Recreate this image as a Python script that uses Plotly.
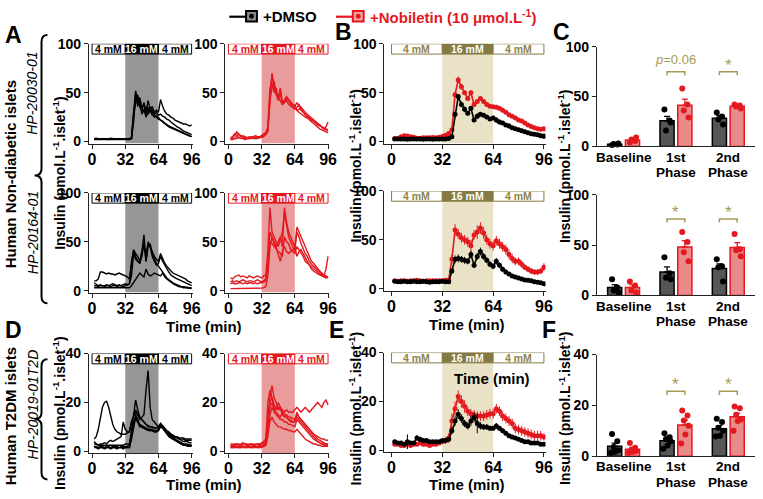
import numpy as np
import plotly.graph_objects as go

W, H = 763, 499
FONT = "Liberation Sans, Arial, Helvetica, sans-serif"
NARROW = "Liberation Sans Narrow, Arial Narrow, Liberation Sans, Arial, sans-serif"

# ---------------- data ----------------
TIME = list(range(2, 97, 2))          # sampling times (min)
TIME_TICKS = [0, 32, 64, 96]
GLUCOSE_EDGES = [0, 32, 64, 96]
GLUCOSE_LABELS = ["4 mM", "16 mM", "4 mM"]
PHASE_LABELS = ["Baseline", "1st", "2nd"]
PHASE_SUBLABELS = ["", "Phase", "Phase"]

# --- Non-diabetic donor HP-20030-01 : individual traces
ND1_DMSO_TRACES = [
    [3,3.5,3,2.5,3,3,2.5,3,3.5,3,2.5,2.5,3,2.5,2.5,3,2.5,3, 4,30,52,40,45,35,38,30,42,33,36,30,32,30,43,36,31,28,27,25,24,22,21,20,19,18,18,17,16,17],
    [2.5,3,3,3,2.5,3,3,2.5,3,3,3,3,2.5,3,3,2.5,3,3, 3,25,50,36,42,31,40,28,35,30,33,28,30,27,28,26,25,23,22,20,18,17,15,14,12,11,10,9,8,7],
    [2,2,2.5,2,2,2.5,2,2,2,2.5,2,2,2,2,2.5,2,2,2, 3,20,45,38,40,28,33,25,30,35,30,25,27,24,22,20,18,16,15,14,13,12,11,10,9,8,7,6,5.5,5],
    [2.5,2.5,2,2.5,3,2.5,2.5,2,2.5,2.5,2.5,2,2.5,2.5,2,2.5,2.5,2.5, 3,28,40,48,35,33,30,36,28,32,27,26,25,23,22,21,19,17,16,15,14,13,12,11,10,9,8,7,6,5],
]
ND1_NOB_TRACES = [
    [3,4,6,10,7,5,4,3,4,3,4,3,5,4,5,6,8,9, 12,45,70,55,50,45,52,40,42,45,42,38,35,36,40,36,32,30,28,27,25,22,20,18,17,16,15,13,12,11],
    [2,3,3,5,8,6,5,4,3,4,5,4,3,4,5,5,6,7, 10,50,68,58,48,42,50,38,40,42,38,36,34,33,35,38,34,30,27,25,24,22,21,20,18,17,15,14,13,12],
    [4,5,8,6,4,5,6,5,4,5,4,5,6,5,4,6,7,9, 15,55,60,50,55,45,42,38,40,45,42,40,38,36,32,33,35,32,30,28,26,25,23,21,18,16,14,13,15,20],
    [2,2,3,3,4,3,3,2,3,3,3,4,3,3,4,4,5,8, 11,42,55,62,48,44,55,38,42,46,43,40,38,37,32,30,28,27,25,24,22,20,19,17,15,13,12,11,10,9],
]
# --- Non-diabetic donor HP-20164-01 : individual traces
ND2_DMSO_TRACES = [
    [10,10,12,19,19,18,17,18,17,17,16,17,18,17,16,15,14,12, 25,42,38,35,30,40,45,38,48,45,40,35,32,30,38,33,28,25,22,20,18,17,16,15,14,13,12,10,9,8],
    [8,6,5,6,5,5,6,5,6,7,6,5,6,5,6,7,6,7, 30,40,35,30,28,40,57,30,45,48,38,32,28,25,22,18,15,13,11,9,8,7,6,5,4,4,3.5,3,3,3],
    [3,3,2.5,3,3,2.5,3,3,3,2.5,3,3,3,3,2.5,3,3,3, 5,8,12,15,18,16,14,22,17,15,16,18,17,16,15,18,14,12,10,8,7,6,5,4,4,3,3,2.5,2.5,2],
    [5,5,4,5,5,4,5,5,4,5,5,4,5,5,4,5,6,7, 15,38,32,30,28,35,48,30,50,45,35,30,26,28,35,30,26,22,19,16,14,13,12,11,10,9,8,7,6,5],
]
ND2_NOB_TRACES = [
    [13,12,14,15,16,14,15,14,13,15,14,13,14,15,14,13,15,16, 40,85,60,55,50,45,52,60,80,65,55,50,45,40,60,55,48,42,38,35,30,27,25,22,20,18,17,16,15,14],
    [9,10,9,10,9,10,11,10,9,10,10,9,10,11,10,9,10,12, 30,60,55,50,45,50,55,45,85,70,60,55,50,45,65,60,55,50,45,40,35,30,28,25,22,20,18,15,22,35],
    [7,8,7,7,8,8,7,8,7,8,8,7,8,7,8,8,9,10, 25,50,48,45,42,40,38,35,55,50,48,42,40,38,45,42,38,35,30,28,26,24,22,20,18,17,16,15,14,13],
    [2,2,2,2.5,2,2,2,2.5,2,2,2,2,2.5,2,2,2.5,3,4, 15,45,55,48,44,38,30,40,45,40,38,40,42,44,35,40,42,38,34,30,25,22,20,18,17,16,15,14,13,14],
]
# --- T2D donor HP-20019-01T2D : individual traces
T2D_DMSO_TRACES = [
    [5,6,9,14,18,20,20.5,18,14,11,9,8,7.5,7,7,7,7.5,8, 12,15,17,15,14,13,12,11,10.5,10,10,9.5,9.5,10,11,10,9,8,7,6.5,6,5.5,5.5,5,5,5,4.5,4.5,4.5,4.5],
    [3,3,2.5,3,3,3.5,3,4,4.5,4,4.5,5,5.5,6,12,9,8,8, 12,14,16,15,13,14,15,25,33,18,13,12,11,10,11,10,9,8,7.5,7,6.5,6,6,5.5,5.5,5.5,5,5,5,5],
    [2,2,1.5,2,2,1.5,2,2,1.5,2,2,2,1.5,2,2,2,2,2.5, 8,15,21,17,14,13,12,11,10,10,10,9.5,9.5,10,11.5,10.5,9.5,8.5,8,7,6.5,6,5.5,5,4.5,4,4,4,3.5,3.5],
    [2,1.5,1.5,1.5,1.5,1.5,1.5,1.5,1.5,1.5,1.5,1.5,1.5,1.5,1.5,1.5,1.5,1.5, 6,11,15,13,11,10.5,10,9.5,9,9,9,8.5,8.5,9,11,10,8.5,7.5,6.5,5.5,5,4.5,4,3.5,3,3,2.5,2.5,2.5,2.5],
    [1.5,1.5,1,1.5,1.5,1,1.5,1.5,1,1.5,1.5,1,1.5,1.5,1,1.5,1.5,1.5, 5,10,14,12,11,10,9.5,9,8.5,8.5,8.5,8,8,8.5,10.5,9.5,8,7,6,5.5,5,4.5,4,3.5,3,2.5,2.5,2,2,2],
    [4,3,2.5,2.5,2.5,2.5,2.5,2.5,2.5,2.5,2.5,2.5,2.5,2.5,2.5,3,3,3, 7,12,13,12,10,10,9.5,9,9,8.5,8.5,8,8,8.5,10,9.5,8.5,7.5,7,6,5.5,5,4.5,4,3.5,3,3,3,2.5,2.5],
]
T2D_NOB_TRACES = [
    [2.5,2.5,3,3,2.5,3,3.5,3,3,2.5,3,3,2.5,3,3,3.5,4,5, 15,22,27,22,20,18,17,16,15,15,14,14,13.5,13,15,14,13,12,11,10,9,8,7,6,5,4.5,4,3.5,3,3],
    [2,2,2.5,2,2,2.5,2,2,2.5,2,2,2.5,2,2,2.5,2,3,4, 12,20,22,19,18,17,18,17,16,17,16,16,16,17,18,17,16,17,18,17,16,17,18,19,20,19,18,20,21,19],
    [1.5,1.5,1.5,2,1.5,1.5,2,1.5,1.5,2,1.5,1.5,2,1.5,1.5,2,2,2.5, 8,12,14,12,11,10,10,9.5,9,9,8.5,8.5,8,8,9,8,7,6,5,4.5,4,3.5,3,3,2.5,2.5,2,2,2,2],
    [3,3,2.5,3,3,2.5,3,3,2.5,3,3,2.5,3,3,2.5,3,3.5,4, 20,25,22,18,17,20,18,15,14,14,13,13,12,12.5,16,14,13,12,11,10,9,8,7,6.5,6,5.5,5,5,4.5,4.5],
    [2,2,2,2,2,2,2,2,2,2,2,2,2,2,2,2,2.5,3, 10,18,20,17,16,15,14,16,15,14,13,12,12,12,14,13,12,11,10,9,8,7,6,5,4,3.5,3,2.5,2.5,2],
    [1.5,1.5,1.5,1.5,1.5,1.5,1.5,1.5,1.5,1.5,1.5,1.5,1.5,1.5,1.5,1.5,2,2.5, 6,15,18,16,15,14,13,13,12,12,11,11,10.5,10,13,12,11,10,9,8,7,6,5,4.5,4,3.5,3,3,3,2.5],
]

# --- Mean +/- SEM time courses (panels B, E)
ND1_DMSO_MEAN = [2.5,2.5,2.6,2.5,2.4,2.5,2.5,2.6,2.5,2.4,2.5,2.5,2.4,2.5,2.5,2.6,2.5,3.0, 5,28,46,38,33,29,34,22,26,28,27,25,23,24,22,20,19,17,16,14,13,12,11,10,9,8,7.5,7,6,5.5]
ND1_DMSO_SEM = [0.2,0.3,0.3,0.2,0.3,0.2,0.2,0.3,0.3,0.2,0.2,0.2,0.3,0.2,0.2,0.3,0.2,0.2, 0.5,2.5,2.5,3,3,2,2,1.5,3,1.5,2,1.2,1.5,1.5,3,2.5,1.8,1.5,2.5,2,2,2,2,2,2,2,2,2.5,2.5,2.8]
ND1_NOB_MEAN = [3,3.5,5,6,5.8,4.8,4.5,3.5,3.5,3.8,4,4,4.2,4,4.5,5.2,6.5,8.2, 12,48,63,56,50,44,50,38,41,44,41,38,36,35.5,35,34,32,30,27.5,26,24,22,21,19,17,15.5,14,13,12.5,13]
ND1_NOB_SEM = [0.5,0.6,1,1.5,0.9,0.6,0.6,0.5,0.4,0.5,0.5,0.4,0.6,0.4,0.5,0.5,0.7,0.5, 1.2,3,3.5,3,2,1.5,2.5,1.5,1.5,1.5,1.2,1,1,1,2,1.8,1.5,1.2,1.2,1,1,0.8,0.8,0.8,0.8,0.9,0.8,0.7,1,2.5]

ND2_DMSO_MEAN = [7.5,7,7,7.5,7,7,7.5,7,7,7.5,7,6.5,7,7,7,7.5,7,7, 18,30,31,30,29,28,35,24,33,38,33,29,25,23,28,24,20,17,15,13,12,11,10,9,8.5,8,7,6.5,6,5]
ND2_DMSO_SEM = [1,0.8,0.8,1,0.8,0.8,1,0.8,0.8,1,0.8,0.8,0.8,0.8,0.8,1,0.8,0.8, 3,4,4,3.5,3.5,3,4,3,3.5,4,3.5,3,3,3,3.5,3,2.5,2.5,2,2,2,1.8,1.5,1.5,1.5,1.2,1.2,1,1,1]
ND2_NOB_MEAN = [8,7.5,8,8,7.5,8,8,8.5,8,7.5,8,8,8,8,8,8,8.5,9, 30,60,56,52,50,48,44,55,58,62,57,50,46,44,49,46,43,40,35,31,28,28,25,22,20,18,17,17,18,22]
ND2_NOB_SEM = [1,1,1,1,1,1,1,1,1,1,1,1,1,1,1,1,1,1, 5,6,5,5,5,5,6,5,7,6,6,5,5,5,5,5,5,5,5,5,4,4,4,3,3,3,3,3,3,4]

T2D_DMSO_MEAN = [3.5,3,3,2.5,3.5,3,3,5,4.5,4,4,3.5,3.5,3.5,3.5,4,4,4.5, 8,12,14.8,13,11,10,12,13.5,11,10,9.5,9.5,9,9,10,9,8,7,6,5.5,5,4.5,4,3.5,3.5,3,3,3,2.5,2.5]
T2D_DMSO_SEM = [0.6,0.5,0.5,0.5,3,0.6,0.5,1.2,1,0.8,0.7,0.6,0.6,0.6,0.6,0.7,0.7,0.8, 1.5,2,2,1.8,1.5,1.5,2,2,4,1.5,1.2,1.2,1,1,1.2,1,1,0.8,0.8,0.7,0.7,0.6,0.6,0.6,0.5,0.5,0.5,0.5,0.5,0.5]
T2D_NOB_MEAN = [2.5,2.5,2,2,2.5,2,2.5,2.5,3,2.5,2.5,2,2.5,2.5,3,3.5,4,5, 12,17,22,20,18,16,15,14.5,14,14,14,14.5,15,15,17,16,14,13,12,11,9,8.5,8,7.5,7,6.5,6,6,6,5.5]
T2D_NOB_SEM = [0.5,0.5,0.4,0.4,0.5,0.4,0.5,0.5,0.6,0.5,0.5,0.4,0.5,0.5,0.6,0.8,1.5,2, 3,3,2.5,2.5,2.5,2,2,2,2,2,2,2,2,2,2,2,2,2,2,2,2,2,2,2,2,2,2,2,2,1.5]

# --- Phase quantification (panels C, F): one value per islet preparation
ND1_BAR_DMSO = [[1.5, 2, 2.5, 3], [37, 26, 16, 24], [34, 30, 27, 22]]
ND1_BAR_NOB = [[4, 5.5, 7, 9], [58, 42, 36, 29], [42, 41, 40, 38]]
ND2_BAR_DMSO = [[16, 8, 5, 3], [38, 22, 17.5, 16], [36, 29, 28, 14]]
ND2_BAR_NOB = [[14, 10, 5, 3], [63, 53, 43, 34], [61, 46, 45, 39]]
T2D_BAR_DMSO = [[8.7, 5.9, 3.6, 2.3, 1.7, 1.3], [9, 7.4, 6.8, 5.9, 4.2, 2.9], [14.7, 13.4, 11.2, 10, 8, 7.7]]
T2D_BAR_NOB = [[5.2, 3.3, 2.6, 2, 1.7, 1.3], [18, 16, 14, 12, 8.5, 5], [19.5, 18.9, 16.3, 14.4, 13.8, 10]]

ND1_SIG = ["<i>p</i>=0.06", "*"]   # 1st phase, 2nd phase
ND2_SIG = ["*", "*"]
T2D_SIG = ["*", "*"]

# ---------------- styles ----------------
BLACK = "#000000"
RED = "#e3191f"
GRAY_SHADE = "#969696"
RED_SHADE = "#e89c9c"
OLIVE = "#857a44"
OLIVE_TEXT = "#8e844a"
BEIGE = "#e9e2c6"
SIG_COLOR = "#a69b55"
BAR_DARK = "#565656"
BAR_RED = "#ea8a8a"
JITTER = [-0.05, 0.05, -0.02, 0.07, 0.01, -0.07]

fig = go.Figure()


def X(px):
    return px / W


def Y(py):
    return 1 - py / H


def bold(size, color=BLACK, family=FONT):
    return dict(family=family, size=size, color=color, weight="bold")


def set_axes(idx, xpx, ypx, xrange, yrange, yticks, xticks=True):
    s = "" if idx == 1 else str(idx)
    xa = dict(domain=[X(xpx[0]), X(xpx[1])], range=xrange, anchor="y" + s,
              showline=True, linecolor="#222", linewidth=1, showgrid=False,
              zeroline=False, fixedrange=True)
    if xticks:
        xa.update(tickvals=TIME_TICKS, ticks="outside", ticklen=4, tickwidth=1,
                  tickcolor="#222", tickfont=bold(16), ticklabelstandoff=-3)
    else:
        xa.update(showticklabels=False, ticks="")
    ya = dict(domain=[Y(ypx[1]), Y(ypx[0])], range=yrange, anchor="x" + s,
              showline=True, linecolor="#222", linewidth=1, showgrid=False,
              zeroline=False, tickvals=yticks, ticks="outside", ticklen=4,
              tickwidth=1, tickcolor="#222", tickfont=bold(14), fixedrange=True)
    fig.update_layout({"xaxis" + s: xa, "yaxis" + s: ya})
    return "x" + s, "y" + s


def glucose_box(xr, yr, ymin, ymax, edge, mid_fill, side_text, shade):
    bottom = ymax * 0.895
    fig.add_shape(type="rect", xref=xr, yref=yr, x0=GLUCOSE_EDGES[1], x1=GLUCOSE_EDGES[2],
                  y0=ymin, y1=bottom, fillcolor=shade, line_width=0, layer="below")
    for k in range(3):
        x0, x1 = GLUCOSE_EDGES[k], GLUCOSE_EDGES[k + 1]
        fig.add_shape(type="rect", xref=xr, yref=yr, x0=x0, x1=x1, y0=bottom, y1=ymax,
                      fillcolor=mid_fill if k == 1 else "white",
                      line=dict(color=edge, width=1))
        fig.add_annotation(xref=xr, yref=yr, x=(x0 + x1) / 2, y=(bottom + ymax) / 2,
                           xanchor="center", yanchor="middle",
                           text=GLUCOSE_LABELS[k], showarrow=False,
                           font=bold(10.5, "white" if k == 1 else side_text, NARROW))


def traces_panel(idx, xpx, ypx, ymax, yticks, traces, color, edge, mid_fill, side_text, shade):
    ymin = -0.02 * ymax
    xr, yr = set_axes(idx, xpx, ypx, [-3, 97], [ymin, ymax], yticks)
    glucose_box(xr, yr, ymin, ymax, edge, mid_fill, side_text, shade)
    for tr in traces:
        fig.add_trace(go.Scatter(x=TIME, y=tr, mode="lines", line=dict(color=color, width=1.4),
                                 xaxis=xr, yaxis=yr, showlegend=False, hoverinfo="skip"))


def mean_panel(idx, xpx, ypx, ymax, yticks, mk, sk, mn, sn):
    ymin = -0.02 * ymax
    xr, yr = set_axes(idx, xpx, ypx, [-4.5, 97], [ymin, ymax], yticks)
    glucose_box(xr, yr, ymin, ymax, OLIVE, OLIVE, OLIVE_TEXT, BEIGE)
    for m, s, c in ((mn, sn, RED), (mk, sk, BLACK)):
        fig.add_trace(go.Scatter(x=TIME, y=m, mode="lines+markers",
                                 line=dict(color=c, width=1.6), marker=dict(color=c, size=5),
                                 error_y=dict(type="data", array=s, color=c, thickness=1, width=0),
                                 xaxis=xr, yaxis=yr, showlegend=False, hoverinfo="skip"))


def bar_panel(idx, xpx, ypx, ymax, yticks, dmso, nob, sig, sig_y):
    xr, yr = set_axes(idx, xpx, ypx, [-0.51, 2.51], [0, ymax], yticks, xticks=False)
    off = 0.17
    for groups, sign, fill, edge in ((dmso, -1, BAR_DARK, BLACK), (nob, 1, BAR_RED, RED)):
        means = [float(np.mean(g)) for g in groups]
        sems = [float(np.std(g, ddof=1) / np.sqrt(len(g))) for g in groups]
        xs = [g + sign * off for g in range(3)]
        fig.add_trace(go.Bar(x=xs, y=means, width=0.27,
                             marker=dict(color=fill, line=dict(color=edge, width=1.5)),
                             error_y=dict(type="data", symmetric=False, array=sems,
                                          arrayminus=[0, 0, 0], color=edge, thickness=1.3, width=3),
                             xaxis=xr, yaxis=yr, showlegend=False, hoverinfo="skip"))
        dx, dy = [], []
        for g, vals in enumerate(groups):
            for j, v in enumerate(vals):
                dx.append(g + sign * off + JITTER[j])
                dy.append(v)
        fig.add_trace(go.Scatter(x=dx, y=dy, mode="markers", marker=dict(color=edge, size=6),
                                 xaxis=xr, yaxis=yr, showlegend=False, hoverinfo="skip",
                                 cliponaxis=False))
    d = ymax * 0.035
    for g, txt in zip([1, 2], sig):
        x0, x1 = g - off, g + off
        fig.add_shape(type="path", xref=xr, yref=yr,
                      path=f"M {x0},{sig_y - d} L {x0},{sig_y} L {x1},{sig_y} L {x1},{sig_y - d}",
                      line=dict(color=SIG_COLOR, width=1.5))
        star = txt == "*"
        fig.add_annotation(xref=xr, yref=yr, x=g, y=sig_y, xanchor="center", yanchor="bottom",
                           yshift=-5 if star else 3, text=txt, showarrow=False,
                           font=dict(family=FONT, size=17 if star else 13, color=SIG_COLOR))
    # category labels (two lines, tight spacing)
    axis_y = ypx[1]
    for g in range(3):
        xc = xpx[0] + (g + 0.51) / 3.02 * (xpx[1] - xpx[0])
        fig.add_annotation(xref="paper", yref="paper", x=X(xc), y=Y(axis_y + 11),
                           xanchor="center", yanchor="middle",
                           text=PHASE_LABELS[g], showarrow=False, font=bold(13.5))
        if PHASE_SUBLABELS[g]:
            fig.add_annotation(xref="paper", yref="paper", x=X(xc), y=Y(axis_y + 27),
                               xanchor="center", yanchor="middle",
                               text=PHASE_SUBLABELS[g], showarrow=False, font=bold(13.5))


# ---------------- panels ----------------
BLK = (BLACK, BLACK, BLACK, GRAY_SHADE)
RD = (RED, RED, RED, RED_SHADE)

traces_panel(1, (89, 194), (37, 140), 100, [0, 50, 100], ND1_DMSO_TRACES, BLACK, *BLK)
traces_panel(2, (227, 332), (37, 140), 100, [0, 50, 100], ND1_NOB_TRACES, RED, *RD)
mean_panel(3, (388, 551), (37, 140), 100, [0, 50, 100], ND1_DMSO_MEAN, ND1_DMSO_SEM, ND1_NOB_MEAN, ND1_NOB_SEM)
bar_panel(4, (603, 763), (40, 143), 100, [0, 50, 100], ND1_BAR_DMSO, ND1_BAR_NOB, ND1_SIG, 75)

traces_panel(5, (89, 194), (191, 294), 100, [0, 50, 100], ND2_DMSO_TRACES, BLACK, *BLK)
traces_panel(6, (227, 332), (191, 294), 100, [0, 50, 100], ND2_NOB_TRACES, RED, *RD)
mean_panel(7, (388, 551), (189, 292), 100, [0, 50, 100], ND2_DMSO_MEAN, ND2_DMSO_SEM, ND2_NOB_MEAN, ND2_NOB_SEM)
bar_panel(8, (603, 763), (193, 297), 100, [0, 50, 100], ND2_BAR_DMSO, ND2_BAR_NOB, ND2_SIG, 76)

traces_panel(9, (89, 194), (357, 460), 40, [0, 20, 40], T2D_DMSO_TRACES, BLACK, *BLK)
traces_panel(10, (227, 332), (357, 460), 40, [0, 20, 40], T2D_NOB_TRACES, RED, *RD)
mean_panel(11, (388, 551), (356, 459), 40, [0, 20, 40], T2D_DMSO_MEAN, T2D_DMSO_SEM, T2D_NOB_MEAN, T2D_NOB_SEM)
bar_panel(12, (603, 763), (358, 463), 40, [0, 20, 40], T2D_BAR_DMSO, T2D_BAR_NOB, T2D_SIG, 25.5)

# ---------------- free text ----------------
def text(px, py, s, font, angle=0, xanchor="center"):
    fig.add_annotation(xref="paper", yref="paper", x=X(px), y=Y(py), text=s, showarrow=False,
                       font=font, textangle=angle, xanchor=xanchor, yanchor="middle")

INSULIN = "Insulin (pmol.L<sup>-1</sup>.islet<sup>-1</sup>)"
for (px, py) in ((58, 170), (358, 163), (570, 163)):
    text(px, py, INSULIN, bold(14), angle=-90)
for (px, py) in ((58, 418), (358, 414), (570, 413)):
    text(px, py, INSULIN, bold(14), angle=-90)

for (px, py) in ((205, 329), (472, 327), (205, 492), (472, 492), (497, 383)):
    text(px, py, "Time (min)", bold(15))

for (px, py, s) in ((13, 28, "A"), (347, 25, "B"), (567, 25, "C"),
                    (13, 333, "D"), (340, 333, "E"), (555, 333, "F")):
    text(px, py, s, bold(23))

ITAL = dict(family=FONT, size=14, color=BLACK, style="italic")
text(10, 172, "Human Non-diabetic islets", bold(15), angle=-90)
text(32, 88, "HP-20030-01", ITAL, angle=-90)
text(32, 232, "HP-20164-01", ITAL, angle=-90)
text(10, 422, "Human T2DM islets", bold(15), angle=-90)
text(32, 410, "HP-20019-01T2D", ITAL, angle=-90)


def brace(top, bottom, mid, xv=41, xr=47, xl=34, r=7):
    p = (f"M {X(xr)},{Y(top)} Q {X(xv)},{Y(top)} {X(xv)},{Y(top + r)} "
         f"L {X(xv)},{Y(mid - r)} Q {X(xv)},{Y(mid)} {X(xl)},{Y(mid)} "
         f"Q {X(xv)},{Y(mid)} {X(xv)},{Y(mid + r)} L {X(xv)},{Y(bottom - r)} "
         f"Q {X(xv)},{Y(bottom)} {X(xr)},{Y(bottom)}")
    fig.add_shape(type="path", xref="paper", yref="paper", path=p, line=dict(color=BLACK, width=2))


brace(28, 305, 173)
brace(363, 487, 425)

# legend (drawn)
for (lx0, lx1, sx0, sx1, col, fill, label, tx) in (
        (231, 249, 248, 259, BLACK, "#8a8a8a", "+DMSO", 263),
        (339, 357, 356, 367, RED, "#f2a0a0", "+Nobiletin (10 μmol.L<sup>-1</sup>)", 371)):
    fig.add_shape(type="line", xref="paper", yref="paper", x0=X(lx0), x1=X(lx1), y0=Y(9), y1=Y(9),
                  line=dict(color=col, width=2.2))
    fig.add_shape(type="rect", xref="paper", yref="paper", x0=X(sx0), x1=X(sx1), y0=Y(14), y1=Y(3),
                  fillcolor=fill, line=dict(color=col, width=2))
    cx = (sx0 + sx1) / 2
    fig.add_shape(type="circle", xref="paper", yref="paper", x0=X(cx - 2.5), x1=X(cx + 2.5),
                  y0=Y(11), y1=Y(6), fillcolor=col, line=dict(color=col, width=0))
    text(tx, 9, label, bold(15, col), xanchor="left")

fig.update_layout(width=W, height=H, autosize=False, margin=dict(l=0, r=0, t=0, b=0),
                  paper_bgcolor="white", plot_bgcolor="white", barmode="overlay",
                  showlegend=False, font=dict(family=FONT))

fig.write_html("out.html", config={"displayModeBar": False},
               post_script="document.body.style.margin='0px';document.body.style.padding='0px';")
